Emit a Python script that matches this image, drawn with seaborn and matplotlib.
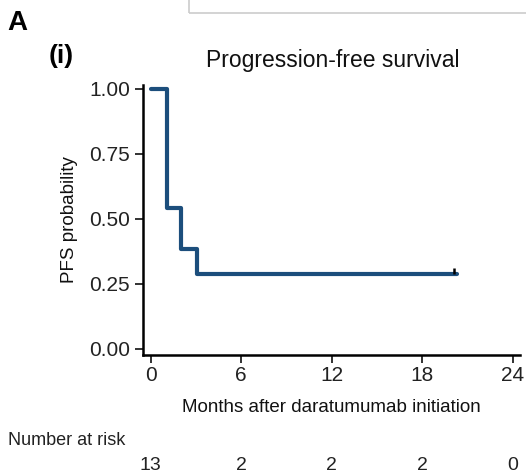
import matplotlib
matplotlib.use("Agg")
import matplotlib.pyplot as plt
import seaborn as sns
import pandas as pd
from matplotlib.patches import Rectangle

# Data
times = [0, 1.1, 2.0, 3.05, 20.3]
surv = [1.0, 0.54, 0.385, 0.288, 0.288]
censor_times = [20.1]
censor_surv = [0.288]
risk_times = [0, 6, 12, 18, 24]
risk_counts = ["13", "2", "2", "2", "0"]
x_ticks = [0, 6, 12, 18, 24]
y_ticks = [0.0, 0.25, 0.5, 0.75, 1.0]
y_ticklabels = ["0.00", "0.25", "0.50", "0.75", "1.00"]

sns.set_theme(style="ticks")
plt.rcParams['font.family'] = ['Liberation Sans', 'DejaVu Sans']

fig = plt.figure(figsize=(5.26, 4.75), dpi=100)
ax = fig.add_axes([0.272, 0.2526, 0.717, 0.5684])

df = pd.DataFrame({"t": times, "s": surv})
sns.lineplot(data=df, x="t", y="s", ax=ax, drawstyle="steps-post",
             color="#1c4e7c", linewidth=3.0, estimator=None)
ax.vlines(censor_times, censor_surv, [s + 0.022 for s in censor_surv],
          color="black", linewidth=1.8, zorder=5)

ax.set_xlim(-0.5, 24.5)
ax.set_ylim(-0.025, 1.015)
ax.set_xticks(x_ticks)
ax.set_yticks(y_ticks)
ax.set_yticklabels(y_ticklabels)
ax.tick_params(axis="both", labelsize=15, colors="#222222", length=6, width=1.3,
               labelcolor="#222222")
ax.tick_params(axis="x", pad=2)
for sp in ["top", "right"]:
    ax.spines[sp].set_linewidth(0)
    ax.spines[sp].set_visible(False)
for sp in ["left", "bottom"]:
    ax.spines[sp].set_linewidth(1.8)
    ax.spines[sp].set_color("black")

ax.set_xlabel("Months after daratumumab initiation", fontsize=13.5, color="#111111",
              labelpad=10)
ax.set_ylabel("PFS probability", fontsize=13.5, color="#111111", labelpad=8)

fig.text(0.632, 0.873, "Progression-free survival", fontsize=16.5, ha="center",
         va="center", color="#111111")
fig.text(0.013, 0.952, "A", fontsize=20, fontweight="bold", ha="left", va="center",
         color="black")
fig.text(0.093, 0.882, "(i)", fontsize=19, fontweight="bold", ha="left", va="center",
         color="black")
fig.text(0.015, 0.072, "Number at risk", fontsize=13, ha="left", va="center",
         color="#222222")

# risk table numbers aligned to data coordinates
for t, c in zip(risk_times, risk_counts):
    ax.annotate(c, xy=(t, 0.02), xycoords=("data", "figure fraction"),
                ha="center", va="center", fontsize=14, color="#222222")

# partial frame of neighbouring panel at top
fig.patches.append(Rectangle((0.36, 0.973), 0.7, 0.1, transform=fig.transFigure,
                             fill=False, edgecolor="#cccccc", linewidth=1.2))

fig.savefig("out.png", dpi=100)
